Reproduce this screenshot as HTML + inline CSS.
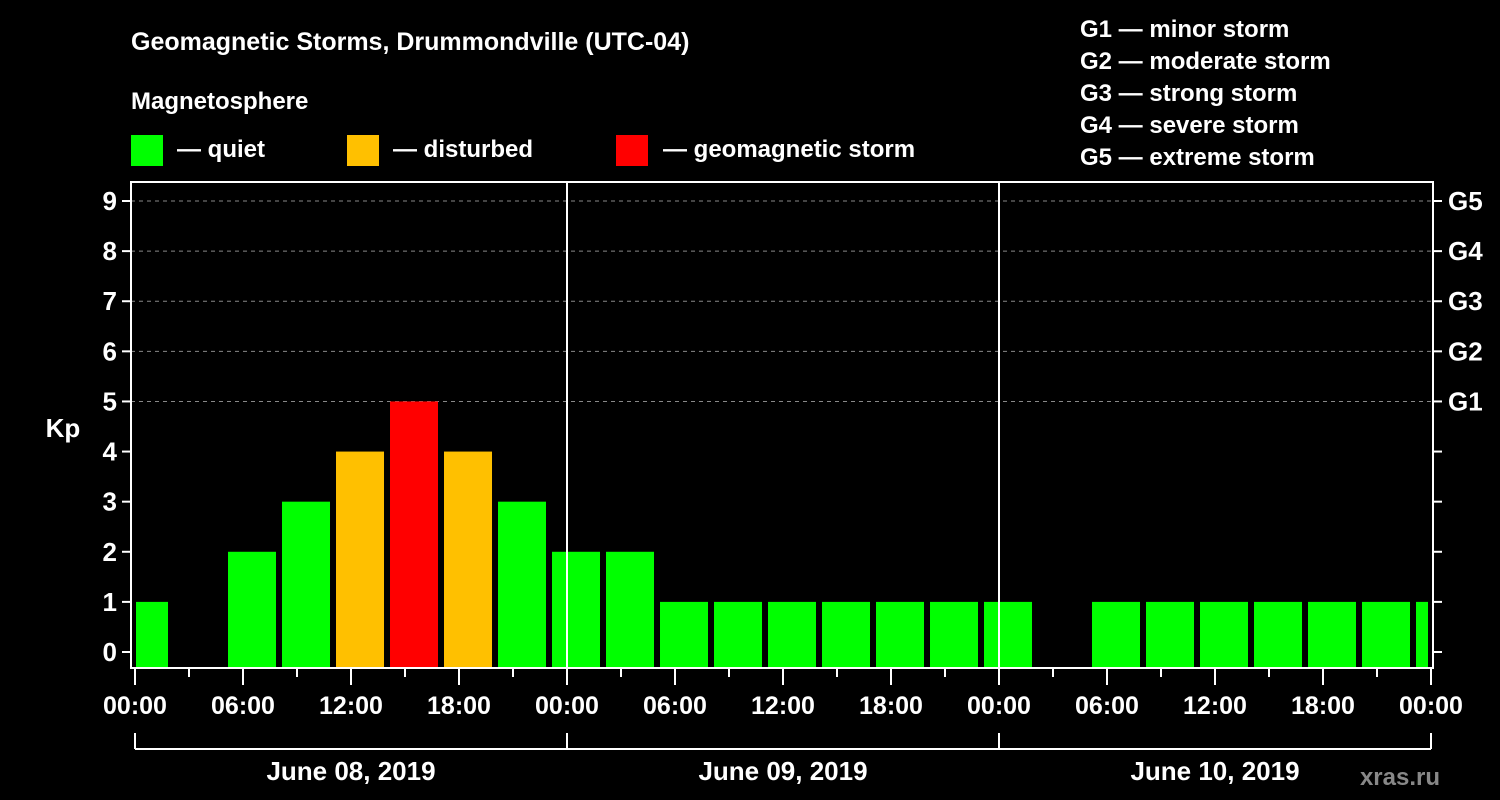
<!DOCTYPE html>
<html><head><meta charset="utf-8"><style>
html,body{margin:0;padding:0;background:#000;}
svg{display:block;font-family:"Liberation Sans",Arial,sans-serif;font-weight:bold;}
</style></head><body>
<svg id="chart" width="1500" height="800" viewBox="0 0 1500 800">
<rect x="0" y="0" width="1500" height="800" fill="#000"/>
<text x="131" y="50" fill="#fff" font-size="25">Geomagnetic Storms, Drummondville (UTC-04)</text>
<text x="131" y="109" fill="#fff" font-size="24">Magnetosphere</text>
<g><rect x="131" y="135" width="32" height="31" fill="#00ff00"/><text x="177" y="157" fill="#fff" font-size="24">— quiet</text></g>
<g><rect x="347" y="135" width="32" height="31" fill="#ffc000"/><text x="393" y="157" fill="#fff" font-size="24">— disturbed</text></g>
<g><rect x="616" y="135" width="32" height="31" fill="#ff0000"/><text x="663" y="157" fill="#fff" font-size="24">— geomagnetic storm</text></g>
<g fill="#fff" font-size="24">
<text x="1080" y="37">G1 — minor storm</text>
<text x="1080" y="69">G2 — moderate storm</text>
<text x="1080" y="101">G3 — strong storm</text>
<text x="1080" y="133">G4 — severe storm</text>
<text x="1080" y="165">G5 — extreme storm</text>
</g>
<text x="63" y="437" fill="#fff" font-size="26" text-anchor="middle">Kp</text>
<text x="1440" y="785" fill="#888" font-size="24" text-anchor="end">xras.ru</text>
<g id="grid"></g><g id="bars"></g><g id="axes"></g>
</svg>
<script>
const kpValues=[1,0,2,3,4,5,4,3,2,2,1,1,1,1,1,1,1,0,1,1,1,1,1,1,1];
const yTicks=[0,1,2,3,4,5,6,7,8,9];
const gLabels=["G1","G2","G3","G4","G5"];
const dayLabels=["June 08, 2019","June 09, 2019","June 10, 2019"];
const timeLabels=["00:00","06:00","12:00","18:00"];
const NS="http://www.w3.org/2000/svg";
const X0=135,PXH=18,LEFT=131,RIGHT=1433,TOP=182,BOT=668;
function x(h){return X0+h*PXH;}
function y(v){return 652-v*50.11;}
function mk(t,a,p){const e=document.createElementNS(NS,t);for(const k in a)e.setAttribute(k,a[k]);p.appendChild(e);return e;}
const grid=document.getElementById('grid'),bars=document.getElementById('bars'),axes=document.getElementById('axes');
yTicks.forEach(v=>{
 if(v>=5){const l=mk('line',{x1:LEFT,x2:RIGHT,y1:y(v),y2:y(v),stroke:'#888','stroke-width':1,'stroke-dasharray':'4,4'},grid);
 
 }
 mk('line',{x1:LEFT-9,x2:LEFT,y1:y(v),y2:y(v),stroke:'#fff','stroke-width':2},axes);
 mk('line',{x1:RIGHT,x2:RIGHT+9,y1:y(v),y2:y(v),stroke:'#fff','stroke-width':2},axes);
 const t=mk('text',{x:LEFT-14,y:y(v)+9,fill:'#fff','font-size':26,'text-anchor':'end'},axes);t.textContent=v;
 
 
});
gLabels.forEach((g,i)=>{const t=mk('text',{x:RIGHT+15,y:y(i+5)+9,fill:'#fff','font-size':26},axes);t.textContent=g;
 
 });
kpValues.forEach((v,i)=>{
 if(v<=0)return;
 let s=x(i*3-0.833),e=s+48;s=Math.max(s,136);e=Math.min(e,1428);
 const c=v>=5?'#ff0000':(v>=4?'#ffc000':'#00ff00');
 const r=mk('rect',{x:s,y:y(v),width:e-s,height:BOT-y(v),fill:c},bars);
 
 
});
mk('rect',{x:LEFT,y:TOP,width:RIGHT-LEFT,height:BOT-TOP,fill:'none',stroke:'#fff','stroke-width':2},axes);
[1,2].forEach(d=>mk('line',{x1:x(d*24),x2:x(d*24),y1:TOP,y2:BOT,stroke:'#fff','stroke-width':2},axes));
for(let h=0;h<=72;h+=3){
 const major=h%6===0;
 mk('line',{x1:x(h),x2:x(h),y1:BOT,y2:BOT+(major?17:9),stroke:'#fff','stroke-width':2},axes);
 if(major){const t=mk('text',{x:x(h),y:714,fill:'#fff','font-size':25,'text-anchor':'middle'},axes);
  t.textContent=timeLabels[(h/6)%4];
  
  }
}
mk('line',{x1:x(0),x2:x(72),y1:749,y2:749,stroke:'#fff','stroke-width':2},axes);
for(let d=0;d<=3;d++)mk('line',{x1:x(d*24),x2:x(d*24),y1:733,y2:749,stroke:'#fff','stroke-width':2},axes);
dayLabels.forEach((dl,i)=>{const t=mk('text',{x:x(i*24+12),y:780,fill:'#fff','font-size':26,'text-anchor':'middle'},axes);t.textContent=dl;
 
 });
</script>
</body></html>
